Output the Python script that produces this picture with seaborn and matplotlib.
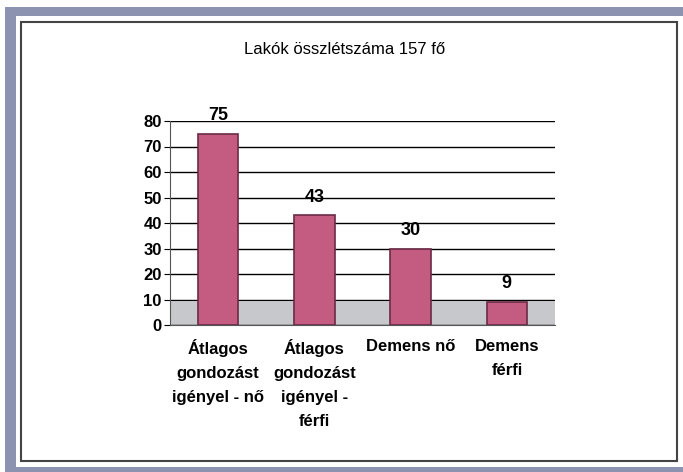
import matplotlib
matplotlib.use("Agg")
import matplotlib.pyplot as plt
import matplotlib.patches as patches
import pandas as pd
import seaborn as sns

# Data
categories = ["Átlagos\ngondozást\nigényel - nő", "Átlagos\ngondozást\nigényel -\nférfi",
              "Demens nő", "Demens\nférfi"]
values = [75, 43, 30, 9]
title = "Lakók összlétszáma 157 fő"

df = pd.DataFrame({"category": categories, "value": values})

sns.set_style("white")
plt.rcParams['font.family'] = ['Liberation Sans Narrow', 'Liberation Sans', 'DejaVu Sans']
plt.rcParams['text.color'] = 'black'
plt.rcParams['xtick.color'] = 'black'
plt.rcParams['ytick.color'] = 'black'

W, H = 683, 472
fig = plt.figure(figsize=(W / 100, H / 100), dpi=100)
fig.patch.set_facecolor("white")

# Frame: blue-grey band, white page, thin dark chart border (pixel coords -> figure fraction)
def px_rect(x0, y0, x1, y1, **kw):
    return patches.Rectangle((x0 / W, 1 - y1 / H), (x1 - x0) / W, (y1 - y0) / H,
                             transform=fig.transFigure, figure=fig, **kw)

fig.patches.append(px_rect(5, 7, 683, 472, facecolor="#8c93b0", edgecolor="none", zorder=-3))
fig.patches.append(px_rect(16, 16, 683, 467, facecolor="white", edgecolor="none", zorder=-2))
fig.patches.append(px_rect(21, 22, 677, 461, facecolor="white", edgecolor="#444444",
                           linewidth=1.5, zorder=-1))

ax = fig.add_axes([170 / W, 1 - 325 / H, (555 - 170) / W, (325 - 121) / H])
ax.set_facecolor("none")
ax.set_zorder(5)

# grey floor band
ax.axhspan(0, 9, xmin=0.0, xmax=1.0, color="#c6c8cc", zorder=0)

sns.barplot(data=df, x="category", y="value", color="#c45c82", width=0.42,
            edgecolor="#6b2a45", linewidth=1.2, saturation=1, ax=ax, zorder=3)

for c in ax.containers:
    ax.bar_label(c, labels=[str(v) for v in values], padding=7,
                 fontsize=13, fontweight="bold", color="black")

ax.set_ylim(0, 80)
ax.set_yticks(range(0, 81, 10))
ax.yaxis.grid(True, color="black", linewidth=1.0)
ax.set_axisbelow(True)
ax.set_xlabel("")
ax.set_ylabel("")
ax.tick_params(axis="y", labelsize=12, length=4, left=True, pad=2, labelcolor="black")
ax.tick_params(axis="x", labelsize=12, length=0, pad=10, labelcolor="black")
for lbl in ax.get_xticklabels() + ax.get_yticklabels():
    lbl.set_fontweight("bold")
for lbl in ax.get_xticklabels():
    lbl.set_linespacing(1.75)
    lbl.set_verticalalignment("top")

sns.despine(ax=ax, top=True, right=True, bottom=False, left=False)
ax.spines["left"].set_color("#555555")
ax.spines["bottom"].set_color("#555555")

fig.text(345 / W, 1 - 50 / H, title, ha="center", va="center", fontsize=12, color="black")

fig.savefig("out.png", dpi=100)
